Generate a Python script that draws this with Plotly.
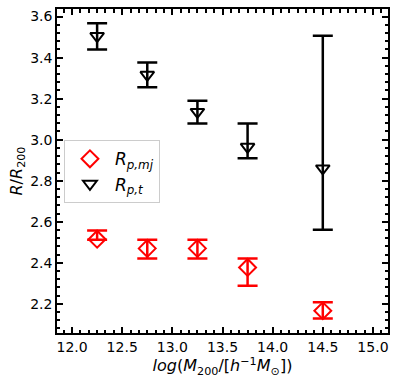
import plotly.graph_objects as go

mass = [12.25, 12.75, 13.25, 13.75, 14.5]
r_mj = [2.515, 2.470, 2.470, 2.377, 2.166]
r_mj_up = [0.042, 0.042, 0.042, 0.044, 0.042]
r_mj_dn = [0.003, 0.049, 0.049, 0.089, 0.038]

r_t = [3.505, 3.316, 3.135, 2.965, 2.860]
r_t_up = [0.062, 0.060, 0.055, 0.114, 0.646]
r_t_dn = [0.065, 0.061, 0.056, 0.056, 0.299]

x_range = [11.85, 15.15]
y_range = [2.0576, 3.637]

fig = go.Figure()
fig.add_trace(go.Scatter(
    x=mass, y=r_mj, mode="markers",
    name="<i>R</i><sub><i>p,mj</i></sub>",
    marker=dict(symbol="diamond-open", size=13, color="red", line=dict(width=2, color="red")),
    error_y=dict(type="data", symmetric=False, array=r_mj_up, arrayminus=r_mj_dn,
                 color="red", thickness=2.5, width=10),
))
fig.add_trace(go.Scatter(
    x=mass, y=r_t, mode="markers",
    name="<i>R</i><sub><i>p,t</i></sub>",
    marker=dict(symbol="triangle-down-open", size=12, color="black", line=dict(width=2, color="black")),
    error_y=dict(type="data", symmetric=False, array=r_t_up, arrayminus=r_t_dn,
                 color="black", thickness=2.5, width=10),
))
# invisible trace to carry the mirrored tick axes (top/right)
fig.add_trace(go.Scatter(x=[mass[0]], y=[r_t[0]], mode="markers", xaxis="x2", yaxis="y2",
                         marker=dict(opacity=0), showlegend=False, hoverinfo="skip"))

tick_common = dict(
    ticks="inside", ticklen=6, tickwidth=2, tickcolor="black",
    showgrid=False, zeroline=False,
)
xminor = dict(ticks="inside", ticklen=3.5, tickwidth=1.5, tickcolor="black", tick0=12, dtick=1/12, showgrid=False)
yminor = dict(ticks="inside", ticklen=3.5, tickwidth=1.5, tickcolor="black", tick0=2.2, dtick=0.04, showgrid=False)

fig.update_layout(
    width=397, height=383,
    margin=dict(l=57, r=7, t=8, b=50),
    plot_bgcolor="white", paper_bgcolor="white",
    xaxis=dict(
        range=x_range, tick0=12, dtick=0.5, tickformat=".1f", minor=xminor,
        showline=True, linecolor="black", linewidth=1.5, mirror=True,
        tickfont=dict(family="DejaVu Sans", size=14, color="black"),
        title=dict(text="<i>log</i>(<i>M</i><sub>200</sub>/[<i>h</i><sup>−1</sup><i>M</i><sub>⊙</sub>])",
                   font=dict(family="DejaVu Sans", size=16, color="black"), standoff=4),
        **tick_common,
    ),
    yaxis=dict(
        range=y_range, tick0=2.2, dtick=0.2, tickformat=".1f", minor=yminor,
        showline=True, linecolor="black", linewidth=1.5, mirror=True,
        tickfont=dict(family="DejaVu Sans", size=14, color="black"),
        title=dict(text="<i>R</i>/<i>R</i><sub>200</sub>",
                   font=dict(family="DejaVu Sans", size=16, color="black"), standoff=4),
        **tick_common,
    ),
    xaxis2=dict(range=x_range, overlaying="x", side="top", tick0=12, dtick=0.5,
                minor=xminor, showticklabels=False, **tick_common),
    yaxis2=dict(range=y_range, overlaying="y", side="right", tick0=2.2, dtick=0.2,
                minor=yminor, showticklabels=False, **tick_common),
    legend=dict(x=0.021, y=0.595, xanchor="left", yanchor="top",
                bgcolor="rgba(255,255,255,0.8)", bordercolor="#cccccc", borderwidth=1,
                font=dict(family="DejaVu Sans", size=17, color="black"),
                itemwidth=40),
    showlegend=True,
)
fig.write_html("out.html", config={"displayModeBar": False},
               post_script="document.body.style.margin='0px';document.body.style.padding='0px';")
